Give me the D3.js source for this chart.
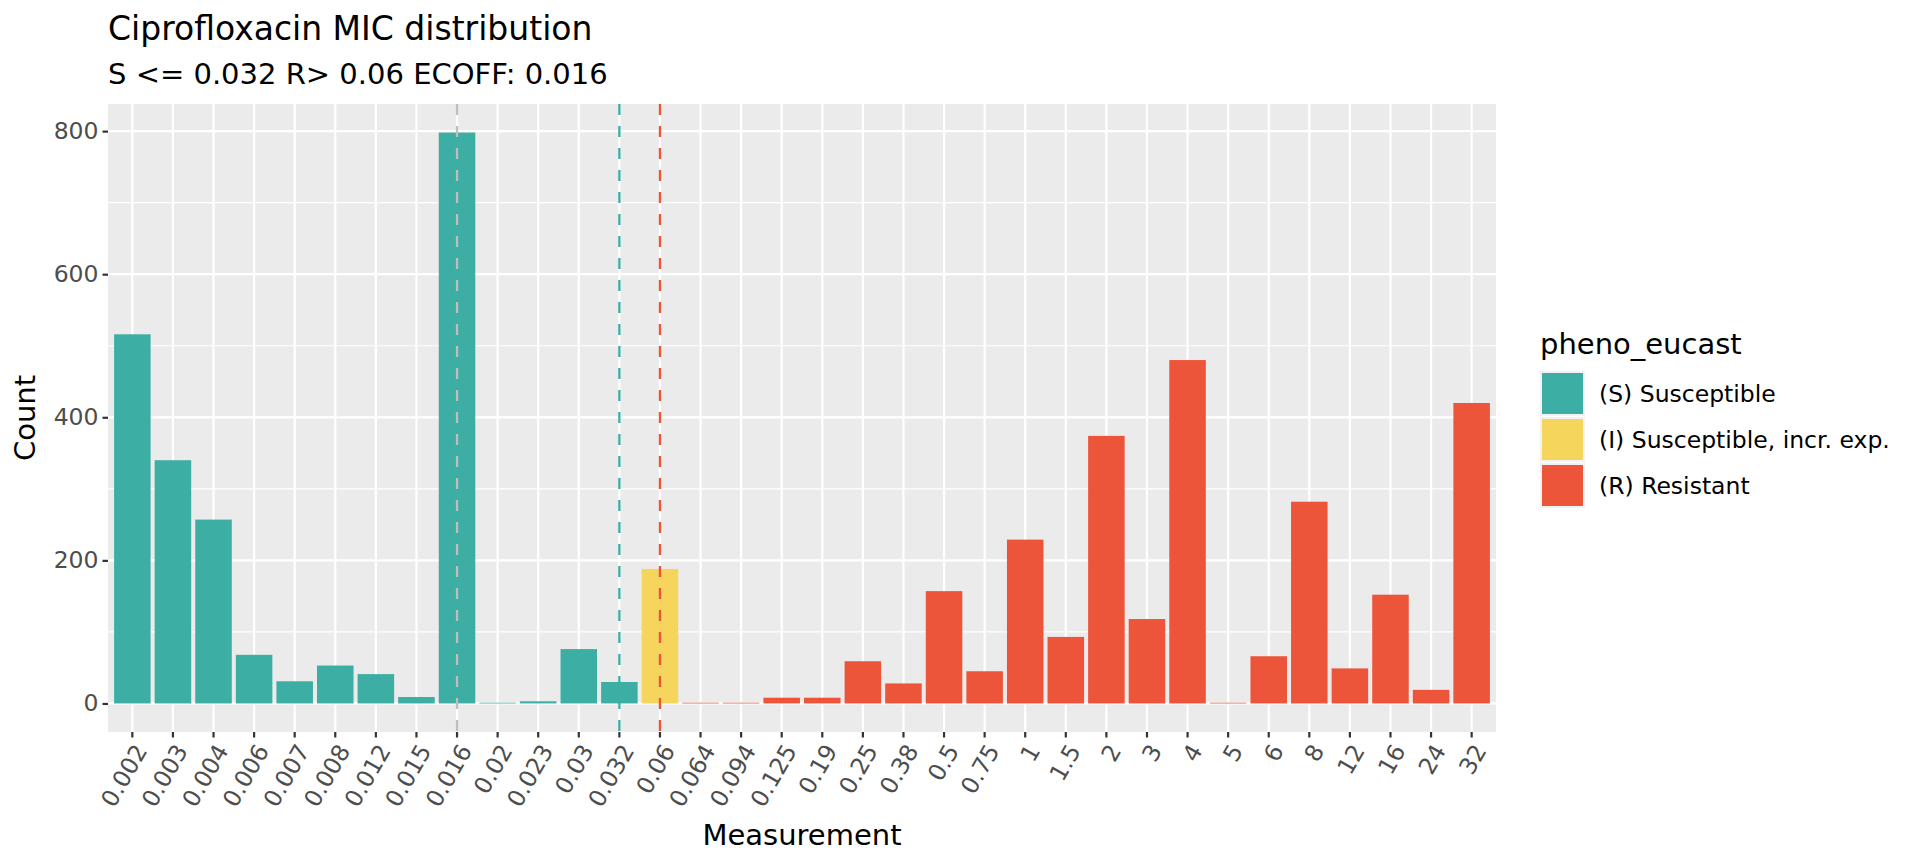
<!DOCTYPE html>
<html>
<head>
<meta charset="utf-8">
<script src="https://cdn.jsdelivr.net/npm/d3@7"></script>
<style>
  html, body { margin: 0; padding: 0; background: #ffffff; }
  svg { display: block; font-family: "DejaVu Sans", sans-serif; }
</style>
</head>
<body>
<svg id="chart" width="1920" height="865"></svg>
<script>
// ---- Data ----
const categories = ["0.002","0.003","0.004","0.006","0.007","0.008","0.012","0.015","0.016","0.02","0.023","0.03","0.032","0.06","0.064","0.094","0.125","0.19","0.25","0.38","0.5","0.75","1","1.5","2","3","4","5","6","8","12","16","24","32"];
const counts = [516, 340, 257, 68, 31, 53, 41, 9, 798, 1, 3, 76, 30, 188, 1, 1, 8, 8, 59, 28, 157, 45, 229, 93, 374, 118, 480, 1, 66, 282, 49, 152, 19, 420];
const phenotypes = ["S","S","S","S","S","S","S","S","S","S","S","S","S","I","R","R","R","R","R","R","R","R","R","R","R","R","R","R","R","R","R","R","R","R"];
const legendKeys = ["S", "I", "R"];
const legendLabels = ["(S) Susceptible", "(I) Susceptible, incr. exp.", "(R) Resistant"];
const legendColors = ["#3CAEA3", "#F6D55C", "#ED553B"];
const yTicks = [0, 200, 400, 600, 800];
const yMinor = [100, 300, 500, 700];
const refLines = [
  { value: "0.016", color: "#BEBEBE" },
  { value: "0.032", color: "#3CAEA3" },
  { value: "0.06",  color: "#ED553B" }
];
const titleText = "Ciprofloxacin MIC distribution";
const subtitleText = "S <= 0.032 R> 0.06 ECOFF: 0.016";
const xTitle = "Measurement";
const yTitle = "Count";
const legendTitle = "pheno_eucast";

const data = categories.map((c, i) => ({ cat: c, n: counts[i], ph: phenotypes[i] }));

// ---- Layout ----
const svg = d3.select("#chart");
const P = { left: 108, right: 1496, top: 104, bottom: 732 };
const FS = { title: 33, subtitle: 29, axisTitle: 29, tick: 23.5, legendTitle: 29, legendText: 23.5 };

const nCat = categories.length;
const unit = (P.right - P.left) / (nCat - 1 + 1.2);
const x = d3.scaleBand()
  .domain(categories)
  .range([P.left + 0.1 * unit, P.right - 0.1 * unit])
  .paddingInner(0).paddingOuter(0);
const xc = c => x(c) + x.bandwidth() / 2;
const barW = x.bandwidth() * 0.9;

const maxV = d3.max(counts);
const y = d3.scaleLinear()
  .domain([-0.05 * maxV, maxV * 1.05])
  .range([P.bottom, P.top]);

const color = d3.scaleOrdinal().domain(legendKeys).range(legendColors);

// Panel background
svg.append("rect")
  .attr("x", P.left).attr("y", P.top)
  .attr("width", P.right - P.left).attr("height", P.bottom - P.top)
  .attr("fill", "#EBEBEB");

// Minor gridlines
svg.append("g").selectAll("line").data(yMinor).join("line")
  .attr("x1", P.left).attr("x2", P.right)
  .attr("y1", d => y(d)).attr("y2", d => y(d))
  .attr("stroke", "#ffffff").attr("stroke-width", 1.1);

// Major gridlines
svg.append("g").selectAll("line").data(yTicks).join("line")
  .attr("x1", P.left).attr("x2", P.right)
  .attr("y1", d => y(d)).attr("y2", d => y(d))
  .attr("stroke", "#ffffff").attr("stroke-width", 2.2);
svg.append("g").selectAll("line").data(categories).join("line")
  .attr("x1", d => xc(d)).attr("x2", d => xc(d))
  .attr("y1", P.top).attr("y2", P.bottom)
  .attr("stroke", "#ffffff").attr("stroke-width", 2.2);

// Bars
svg.append("g").selectAll("rect").data(data).join("rect")
  .attr("x", d => xc(d.cat) - barW / 2)
  .attr("width", barW)
  .attr("y", d => y(d.n))
  .attr("height", d => y(0) - y(d.n))
  .attr("fill", d => color(d.ph));

// Reference dashed lines
svg.append("g").selectAll("line").data(refLines).join("line")
  .attr("x1", d => xc(d.value)).attr("x2", d => xc(d.value))
  .attr("y1", P.top).attr("y2", P.bottom)
  .attr("stroke", d => d.color)
  .attr("stroke-width", 2.3)
  .attr("stroke-dasharray", "11,11");

// Y axis
const yAxis = d3.axisLeft(y).tickValues(yTicks).tickSize(5.5).tickPadding(4);
const gy = svg.append("g").attr("transform", `translate(${P.left},0)`).call(yAxis);
gy.select(".domain").remove();
gy.selectAll(".tick line").attr("stroke", "#333333").attr("stroke-width", 2.2);
gy.selectAll(".tick text").attr("fill", "#4D4D4D").style("font-size", FS.tick + "px")
  .style("font-family", "DejaVu Sans");

// X axis
const xAxis = d3.axisBottom(x).tickSize(5.5).tickPadding(4);
const gx = svg.append("g").attr("transform", `translate(0,${P.bottom})`).call(xAxis);
gx.select(".domain").remove();
gx.selectAll(".tick line").attr("stroke", "#333333").attr("stroke-width", 2.2);
gx.selectAll(".tick text")
  .attr("fill", "#4D4D4D").style("font-size", FS.tick + "px").style("font-family", "DejaVu Sans")
  .attr("text-anchor", "end")
  .attr("x", 0).attr("y", 0).attr("dy", "0.72em")
  .attr("transform", "translate(1,10) rotate(-60)");

// Titles
svg.append("text").attr("x", P.left).attr("y", 40)
  .attr("fill", "#000").style("font-size", FS.title + "px").text(titleText);
svg.append("text").attr("x", P.left).attr("y", 84)
  .attr("fill", "#000").style("font-size", FS.subtitle + "px").text(subtitleText);
svg.append("text").attr("x", (P.left + P.right) / 2).attr("y", 845)
  .attr("text-anchor", "middle").attr("fill", "#000").style("font-size", FS.axisTitle + "px").text(xTitle);
svg.append("text")
  .attr("transform", `translate(35,${(P.top + P.bottom) / 2}) rotate(-90)`)
  .attr("text-anchor", "middle").attr("fill", "#000").style("font-size", FS.axisTitle + "px").text(yTitle);

// Legend
const L = { x: 1540, titleY: 354, keyTop: 371, key: 45 };
svg.append("text").attr("x", L.x).attr("y", L.titleY)
  .attr("fill", "#000").style("font-size", FS.legendTitle + "px").text(legendTitle);
const lg = svg.append("g").selectAll("g").data(legendKeys).join("g")
  .attr("transform", (d, i) => `translate(${L.x},${L.keyTop + i * (L.key + 1)})`);
lg.append("rect").attr("width", L.key).attr("height", L.key).attr("fill", "#F2F2F2");
lg.append("rect").attr("x", 2).attr("y", 2).attr("width", L.key - 4).attr("height", L.key - 4)
  .attr("fill", d => color(d));
lg.append("text").attr("x", L.key + 14).attr("y", L.key / 2).attr("dy", "0.35em")
  .attr("fill", "#000").style("font-size", FS.legendText + "px").text((d, i) => legendLabels[i]);
</script>
</body>
</html>
